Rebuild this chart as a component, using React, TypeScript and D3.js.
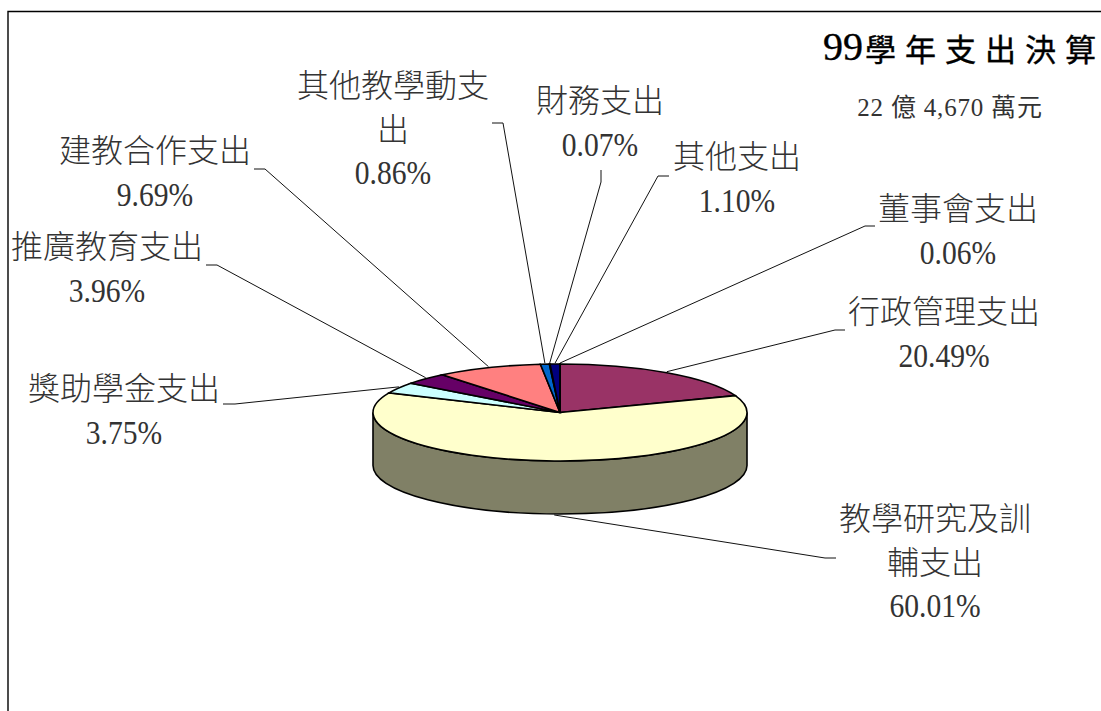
import React from "react";
import * as d3 from "d3";

const categories = ["行政管理支出", "教學研究及訓輔支出", "獎助學金支出", "推廣教育支出", "建教合作支出", "其他教學動支出", "財務支出", "其他支出", "董事會支出"];
const shares = [20.49, 60.01, 3.75, 3.96, 9.69, 0.86, 0.07, 1.1, 0.06];
const colors = ["#993366", "#FFFFCC", "#CCFFFF", "#660066", "#FF8080", "#0066CC", "#0066CC", "#000080", "#000080"];
const labelLines = [["行政管理支出"], ["教學研究及訓", "輔支出"], ["獎助學金支出"], ["推廣教育支出"], ["建教合作支出"], ["其他教學動支", "出"], ["財務支出"], ["其他支出"], ["董事會支出"]];
const labelCenters = [[944, 312], [935, 519], [124, 389], [107, 247], [155, 151], [393, 86], [600, 101], [737, 157], [958, 209]];
const leaderElbows = [[[835, 330], [845, 330]], [[825, 558], [836, 558]], [[235, 404], [223, 404]], [[217, 265], [206, 265]], [[265, 169], [254, 169]], [[503, 123], [492, 123]], [[601, 182], [601, 170]], [[658, 176], [669, 176]], [[865, 226], [875, 226]]];
const titleDigits = "99";
const titleWords = "學年支出決";
const titleLast = "算";
const subtitleText = "22 億 4,670 萬元";

const W = 1101, H = 711;
const cx = 560, cy = 412.5, rx = 187, ry = 48.5, depth = 53;
const fontStack = "'Liberation Serif','Noto Sans CJK TC',serif";
const sideColor = "#808066";

// the chart is a 3-D view: the far side of the disc is foreshortened
const warp = (t: number) => {
  const s = Math.sin(t);
  return t - ((4.2 * Math.PI) / 180) * Math.sign(s) * Math.sqrt(Math.abs(s));
};

export default function App() {
  const pie = d3.pie<number>().sort(null).value((d) => d);
  const arcs = pie(shares).map((a) => ({ ...a, startAngle: warp(a.startAngle), endAngle: warp(a.endAngle) }));
  const arc = d3.arc<any>().innerRadius(0).outerRadius(rx);
  const side = `M${cx - rx},${cy}A${rx},${ry} 0 0 0 ${cx + rx},${cy}L${cx + rx},${cy + depth}A${rx},${ry} 0 0 1 ${cx - rx},${cy + depth}Z`;
  const line = d3.line();
  const leaders = arcs.map((a, i) => {
    const m = (a.startAngle + a.endAngle) / 2;
    const x = cx + rx * Math.sin(m);
    const cos = Math.cos(m);
    const y = cy - ry * cos + (cos < 0 ? depth + 1 : -1);
    return line([[x, y], ...(leaderElbows[i] as [number, number][])]) as string;
  });
  const lineGap = 43.5;
  return (
    <svg width={W} height={H} style={{ position: "absolute", left: 0, top: 0, background: "#fff", display: "block" }} fontFamily={fontStack}>
      <path d={`M8,${H}V11.5H${W}`} fill="none" stroke="#000" strokeWidth={1.4} />
      <g>
        {leaders.map((d, i) => <path key={i} d={d} fill="none" stroke="#111" strokeWidth={1} />)}
      </g>
      <path d={side} fill={sideColor} stroke="#000" strokeWidth={1.6} />
      <g transform={`translate(${cx},${cy}) scale(1,${ry / rx})`}>
        {arcs.map((a, i) => (
          <path key={categories[i]} d={arc(a) as string} fill={colors[i]} stroke="#000" strokeWidth={1.6} vectorEffect="non-scaling-stroke" />
        ))}
      </g>
      <g fill="#333" textAnchor="middle">
        {categories.map((c, i) => {
          const [x, y] = labelCenters[i];
          const lines = labelLines[i];
          return (
            <g key={c}>
              {lines.map((l, j) => (
                <text key={j} x={x} y={y + j * lineGap + 11} fontSize={32} fontWeight={300}>{l}</text>
              ))}
              <text transform={`translate(${x},${y + lines.length * lineGap + 11}) scale(0.87,1)`} fontSize={34}>{shares[i].toFixed(2)}%</text>
            </g>
          );
        })}
      </g>
      <text x={823} y={60} fill="#000" stroke="#000" strokeWidth={0.4}>
        <tspan fontSize={40}>{titleDigits}</tspan>
        <tspan fontSize={31} letterSpacing={9} dy={1} dx={2}>{titleWords}</tspan>
        <tspan fontSize={31}>{titleLast}</tspan>
      </text>
      <text x={950} y={116} fontSize={25} letterSpacing={0.8} fill="#333" textAnchor="middle">{subtitleText}</text>
    </svg>
  );
}
